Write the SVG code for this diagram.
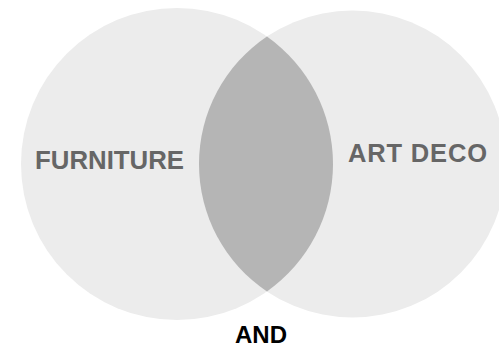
<svg xmlns="http://www.w3.org/2000/svg" width="499" height="347" viewBox="0 0 499 347">
<style>
.set{fill:#ececec}
.lens{fill:#b5b5b5}
.lbl{font-family:"Liberation Sans",Arial,sans-serif;font-weight:bold;font-size:25px;fill:#666666}
.and{font-family:"Liberation Sans",Arial,sans-serif;font-weight:bold;font-size:24px;fill:#000000}
</style>
<rect width="499" height="347" fill="#ffffff"/>
<g id="furniture">
<circle class="set" cx="177" cy="164" r="156"/>
</g>
<g id="art-deco">
<circle class="set" cx="352.5" cy="164" r="153.5"/>
</g>
<g id="intersection">
<path class="lens" d="M266.95,36.54 A156,156 0 0 1 266.95,291.46 A153.5,153.5 0 0 1 266.95,36.54 Z"/>
</g>
<g id="labels">
<text class="lbl" x="35" y="169" textLength="149" lengthAdjust="spacingAndGlyphs">FURNITURE</text>
<text class="lbl" x="348" y="162" style="font-size:25.5px" textLength="139" lengthAdjust="spacing">ART DECO</text>
<text class="and" x="261" y="342.5" text-anchor="middle">AND</text>
</g>
<g id="connectors"/>
</svg>
